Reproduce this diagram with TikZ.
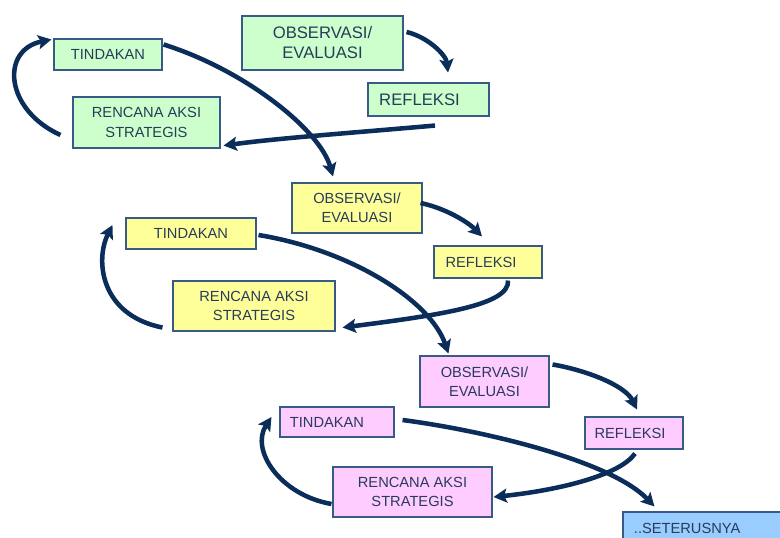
\documentclass[tikz,border=0pt]{standalone}
\usepackage{fontspec}
\setmainfont{Liberation Sans}
\usetikzlibrary{arrows.meta,calc}
\definecolor{gfill}{HTML}{CCFFCC}
\definecolor{yfill}{HTML}{FFFF99}
\definecolor{pfill}{HTML}{FFCCFF}
\definecolor{bfill}{HTML}{99CCFF}
\definecolor{boxline}{RGB}{55,90,135}
\definecolor{txt}{RGB}{40,60,90}
\definecolor{arr}{RGB}{10,45,90}
\begin{document}
\begin{tikzpicture}[x=0.75pt,y=-0.75pt,
  box/.style={draw=boxline, line width=0.8pt, inner sep=0pt, align=center, text=txt, font=\fontsize{11}{14.5}\selectfont},
  big/.style={font=\fontsize{12.5}{15}\selectfont},
  flow/.style={draw=arr, line width=3.4pt, -{Stealth[length=10pt,width=10.5pt,inset=2pt]}}]
\useasboundingbox (0,0) rectangle (780,537);
\clip (0,0) rectangle (780,537);
% green
\node[box, fill=gfill, minimum width=81pt, minimum height=23.25pt] (gtin) at (108,54.5) {TINDAKAN};
\node[box, big, fill=gfill, minimum width=120.75pt, minimum height=40.5pt] (gobs) at (322.5,43) {OBSERVASI/\\EVALUASI};
\node[box, big, fill=gfill, minimum width=90.75pt, minimum height=24.75pt] (gref) at (428.5,99.5) {REFLEKSI\hspace*{13.5pt}};
\node[box, fill=gfill, minimum width=110.25pt, minimum height=38.25pt] (gren) at (146.5,122.5) {RENCANA AKSI\\STRATEGIS};
% yellow
\node[box, fill=yfill, minimum width=97.5pt, minimum height=37.5pt] (yobs) at (357,208) {OBSERVASI/\\EVALUASI};
\node[box, fill=yfill, minimum width=97.5pt, minimum height=23.25pt] (ytin) at (191,233.5) {TINDAKAN};
\node[box, fill=yfill, minimum width=81pt, minimum height=24pt] (yref) at (488,262) {REFLEKSI\hspace*{10.5pt}};
\node[box, fill=yfill, minimum width=121.5pt, minimum height=37.5pt] (yren) at (254,306) {RENCANA AKSI\\STRATEGIS};
% pink
\node[box, fill=pfill, minimum width=96.75pt, minimum height=38.25pt] (pobs) at (484.5,381.5) {OBSERVASI/\\EVALUASI};
\node[box, fill=pfill, minimum width=85.5pt, minimum height=22.5pt] (ptin) at (337,422) {TINDAKAN\hspace*{15pt}};
\node[box, fill=pfill, minimum width=73.5pt, minimum height=24pt] (pref) at (634,433) {REFLEKSI\hspace*{6pt}};
\node[box, fill=pfill, minimum width=119.25pt, minimum height=37.5pt] (pren) at (412.5,492) {RENCANA AKSI\\STRATEGIS};
% blue
\node[box, fill=bfill, minimum width=125.25pt, minimum height=24pt] (sete) at (706.5,528) {..SETERUSNYA\hspace*{29pt}};
% green arrows
\draw[flow] ([shift={(3,-11)}]gobs.east) .. controls (428,37) and (446,55) .. ([shift={(19.5,-10)}]gref.north);
\draw[flow] ([shift={(6.5,9)}]gref.south) .. controls (350,133) and (280,138) .. ([shift={(3,-3)}]gren.south east);
\draw[flow] ([shift={(-12,12.5)}]gren.west) .. controls (5,110) and (0,50) .. ([shift={(-2,1)}]gtin.north west);
\draw[flow] ([shift={(1,6)}]gtin.north east) .. controls (245,70) and (320,130) .. ([shift={(-24,-6)}]yobs.north);
% yellow arrows
\draw[flow] ([shift={(-2,-5)}]yobs.east) .. controls (445,208) and (468,222) .. ([shift={(-6,-9)}]yref.north);
\draw[flow] ([shift={(20,2)}]yref.south) .. controls (510,305) and (440,315) .. ([shift={(7,-4)}]yren.south east);
\draw[flow] ([shift={(-10,-4)}]yren.south west) .. controls (100,315) and (95,260) .. ([shift={(-13,-8.5)}]ytin.west);
\draw[flow] ([shift={(2,1.5)}]ytin.east) .. controls (350,250) and (430,300) .. ([shift={(29,-2)}]pobs.north west);
% pink arrows
\draw[flow] ([shift={(3,9)}]pobs.north east) .. controls (585,370) and (625,385) .. ([shift={(3,-7)}]pref.north);
\draw[flow] ([shift={(1,4)}]pref.south) .. controls (620,475) and (560,490) .. ([shift={(1,5)}]pren.east);
\draw[flow] ([shift={(-1,12)}]pren.west) .. controls (280,495) and (250,450) .. ([shift={(-8,-5)}]ptin.west);
\draw[flow] ([shift={(8,-2)}]ptin.east) .. controls (480,430) and (610,460) .. ([shift={(32,-5)}]sete.north west);
\end{tikzpicture}
\end{document}
